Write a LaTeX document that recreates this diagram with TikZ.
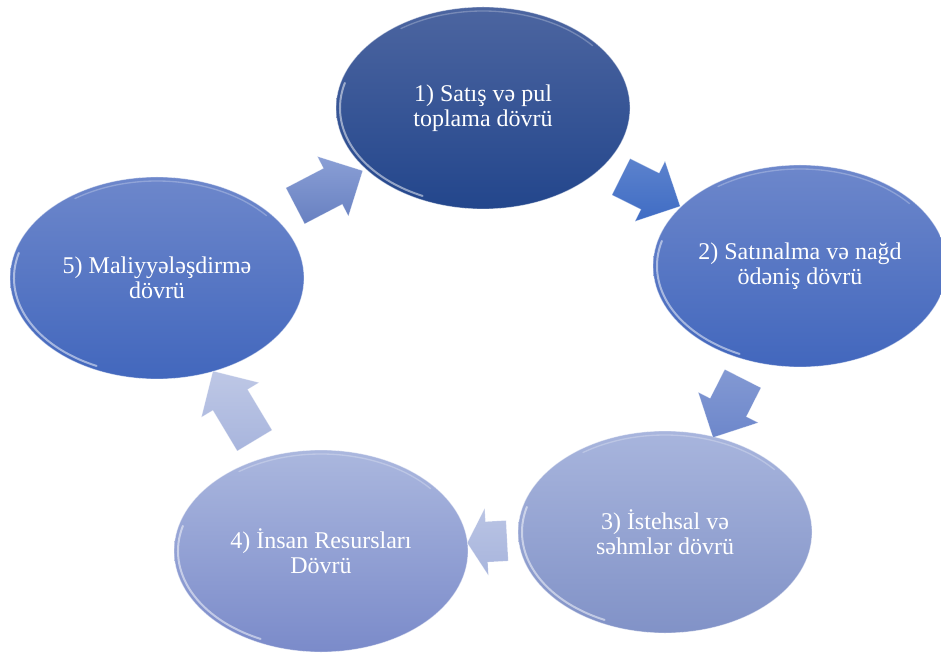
\documentclass[tikz,border=0pt]{standalone}
\usepackage{fontspec}
\setmainfont{Liberation Serif}
\usetikzlibrary{shapes.geometric, shapes.arrows}

\definecolor{darkTop}{HTML}{4C65A0}
\definecolor{darkBot}{HTML}{23468C}
\definecolor{midTop}{HTML}{6D87CB}
\definecolor{midBot}{HTML}{4267BD}
\definecolor{paleTop}{HTML}{A8B5DD}
\definecolor{paleBot}{HTML}{8192C7}
\definecolor{brightArrow}{HTML}{3F6CC4}

\begin{document}
\begin{tikzpicture}[x = 0.75pt, y = -0.75pt,
	phase/.style = {ellipse, minimum width = 220.5pt, minimum height = 151.5pt, inner sep = 0pt,
		align = center, text = white, font = \fontsize{18}{19}\selectfont,
		draw = white, draw opacity = 0.45, line width = 0.6pt},
	blockarrow/.style = {single arrow, sloped, allow upside down, inner xsep = 0pt, inner ysep = 15pt,
		single arrow head extend = 10pt, draw = white, draw opacity = 0.35, line width = 0.4pt}]

	% Definitions

	\def\rx{143}	% Radius of the rim highlight, x
	\def\ry{97}		% Radius of the rim highlight, y

	\useasboundingbox (0, 0) rectangle (941, 655);

	% Phases of the cycle

	\node [phase, top color = darkTop, bottom color = darkBot] (e1) at (483, 108) {1) Satış və pul\\toplama dövrü};
	\node [phase, top color = midTop, bottom color = midBot] (e2) at (800, 266) {2) Satınalma və nağd\\ödəniş dövrü};
	\node [phase, top color = paleTop, bottom color = paleBot] (e3) at (665, 532) {3) İstehsal və\\səhmlər dövrü};
	\node [phase, top color = paleTop!97!white, bottom color = paleBot!95!blue] (e4) at (321, 551) {4) İnsan Resursları\\Dövrü};
	\node [phase, top color = midTop, bottom color = midBot] (e5) at (157, 278) {5) Maliyyələşdirmə\\dövrü};

	% Rim highlights

	\foreach \n in {e1, e2, e3, e4, e5}
	{
		\draw [white, opacity = 0.5, line width = 1.5pt, line cap = round] (\n.center) ++(115 : {\rx} and {\ry}) arc [start angle = 115, end angle = 195, x radius = \rx, y radius = \ry];
		\draw [white, opacity = 0.25, line width = 1pt, line cap = round] (\n.center) ++(235 : {\rx} and {\ry}) arc [start angle = 235, end angle = 320, x radius = \rx, y radius = \ry];
	}

	% Arrows between the phases

	\path (e1) -- node [blockarrow, minimum height = 49.5pt, top color = brightArrow!85!white, bottom color = brightArrow] (a12) {} (e2);
	\path (e2) -- node [blockarrow, minimum height = 49.5pt, top color = midTop!85!white, bottom color = midTop] (a23) {} (e3);
	\path (e3) -- node [blockarrow, minimum height = 30pt, single arrow tip angle = 120, top color = paleTop!80!white, bottom color = paleTop] (a34) {} (e4);
	\path (e4) -- node [blockarrow, minimum height = 60.75pt, top color = paleTop!75!white, bottom color = paleTop] (a45) {} (e5);
	\path (e5) -- node [blockarrow, minimum height = 57pt, top color = midTop!80!white, bottom color = midTop!95!black] (a51) {} (e1);

\end{tikzpicture}
\end{document}
